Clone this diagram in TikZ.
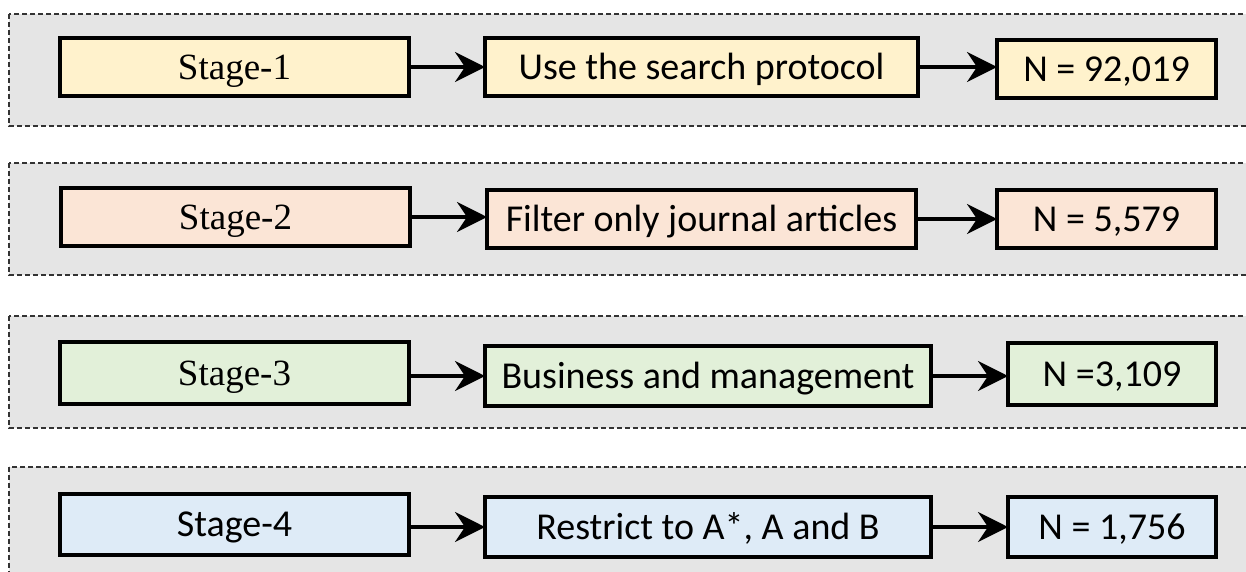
\documentclass[tikz,border=0pt]{standalone}
\usepackage{fontspec}
\setmainfont{Liberation Serif}
\newfontfamily\calibrifont{Carlito}
\usetikzlibrary{arrows.meta}

\definecolor{bandgray}{HTML}{E5E5E5}
\definecolor{fillone}{HTML}{FFF2CC}
\definecolor{filltwo}{HTML}{FBE5D6}
\definecolor{fillthree}{HTML}{E2F0D9}
\definecolor{fillfour}{HTML}{DEEBF7}

\begin{document}
\begin{tikzpicture}[x=1pt,y=-1pt,
  band/.style={fill=bandgray, draw=black!80, line width=1.5pt, dash pattern=on 5pt off 3pt},
  flowbox/.style={draw=black, line width=3.6pt, anchor=north west, inner sep=0pt, outer sep=0pt,
                  align=center, text height=24pt, text depth=0pt},
  serifbox/.style={flowbox, font=\fontsize{37}{40}\selectfont},
  sansbox/.style={flowbox, font=\calibrifont\fontsize{38}{42}\selectfont},
  flow/.style={-{Stealth[length=30pt,width=30pt,inset=10pt]}, line width=3.6pt},
]
\useasboundingbox (0,0) rectangle (1246,571);
\clip (0,0) rectangle (1246,571);

% dashed grey bands, one per stage
\draw[band] (9,14)  rectangle (1262,126);
\draw[band] (9,163) rectangle (1262,275);
\draw[band] (9,316) rectangle (1262,428);
\draw[band] (9,467) rectangle (1262,590);

% Stage 1
\node[serifbox, fill=fillone, minimum width=349pt, minimum height=58pt] (s1) at (60,38) {Stage-1};
\node[sansbox, fill=fillone, minimum width=433pt, minimum height=58pt] (m1) at (485,38) {Use the search protocol};
\node[sansbox, fill=fillone, minimum width=219pt, minimum height=58pt] (n1) at (997,40) {N = 92,019};
\draw[flow] (s1.east) -- (s1.east -| m1.west);
\draw[flow] (m1.east) -- (m1.east -| n1.west);

% Stage 2
\node[serifbox, fill=filltwo, minimum width=349pt, minimum height=58pt] (s2) at (61,188) {Stage-2};
\node[sansbox, fill=filltwo, minimum width=429pt, minimum height=58pt] (m2) at (487,190) {Filter only journal articles};
\node[sansbox, fill=filltwo, minimum width=219pt, minimum height=58pt] (n2) at (997,190) {N = 5,579};
\draw[flow] (s2.east) -- (s2.east -| m2.west);
\draw[flow] (m2.east) -- (m2.east -| n2.west);

% Stage 3
\node[serifbox, fill=fillthree, minimum width=349pt, minimum height=62pt] (s3) at (60,342) {Stage-3};
\node[sansbox, fill=fillthree, minimum width=446pt, minimum height=60pt] (m3) at (485,346) {Business and management};
\node[sansbox, fill=fillthree, minimum width=208pt, minimum height=62pt] (n3) at (1008,343) {N =3,109};
\draw[flow] (m3.west -| s3.east) -- (m3.west);
\draw[flow] (m3.east) -- (m3.east -| n3.west);

% Stage 4
\node[sansbox, fill=fillfour, minimum width=349pt, minimum height=61pt] (s4) at (60,494) {Stage-4};
\node[sansbox, fill=fillfour, minimum width=446pt, minimum height=60pt] (m4) at (485,497) {Restrict to A*, A and B};
\node[sansbox, fill=fillfour, minimum width=208pt, minimum height=60pt] (n4) at (1008,497) {N = 1,756};
\draw[flow] (m4.west -| s4.east) -- (m4.west);
\draw[flow] (m4.east) -- (m4.east -| n4.west);
\end{tikzpicture}
\end{document}
